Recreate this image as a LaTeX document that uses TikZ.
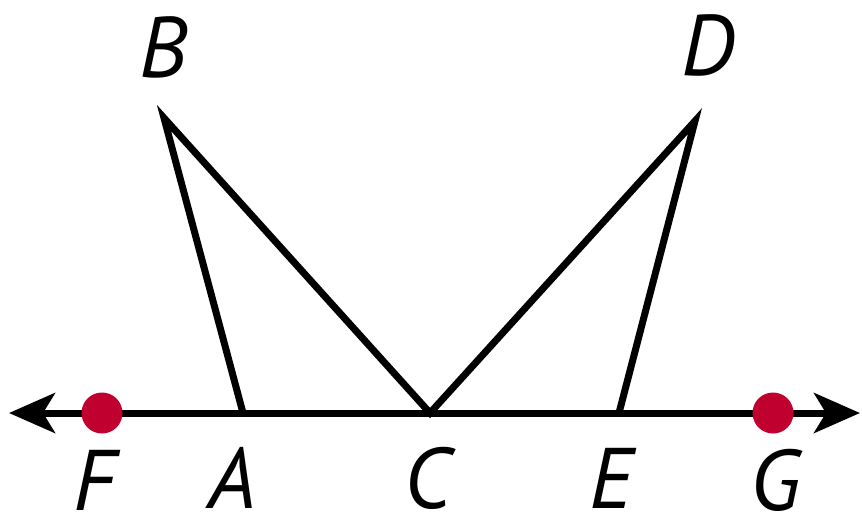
\documentclass[tikz,border=0pt]{standalone}
\usepackage{fontspec}
\setmainfont{PT Sans}
\usetikzlibrary{arrows.meta}
\definecolor{ptred}{RGB}{192,0,47}
\begin{document}
\begin{tikzpicture}[x=1pt,y=-1pt,
  seg/.style={line width=7pt,line join=miter,miter limit=20},
  lbl/.style={font=\fontsize{86}{86}\selectfont\itshape,inner sep=0pt,anchor=center},
  pt/.style={circle,fill=ptred,minimum size=41pt,inner sep=0pt}]
\useasboundingbox (0,0) rectangle (862,523);
\coordinate (L) at (9,413);
\coordinate (R) at (860,413);
\coordinate (A) at (243,413);
\coordinate (C) at (430,413);
\coordinate (E) at (619,413);
\coordinate (B) at (164,118);
\coordinate (D) at (695,121);
\draw[seg,{Stealth[length=46pt,width=40pt,inset=12pt]}-{Stealth[length=46pt,width=40pt,inset=12pt]}] (L) -- (R);
\draw[seg] (A) -- (B) -- (C) -- (D) -- (E);
\node[pt] (F) at (102,413) {};
\node[pt] (G) at (773,413) {};
\node[lbl] (lB) at (163,47) {B};
\node[lbl] (lD) at (708,45) {D};
\node[lbl] (lF) at (95,480) {F};
\node[lbl] (lA) at (232,478) {A};
\node[lbl] (lC) at (428,478) {C};
\node[lbl] (lE) at (611,478) {E};
\node[lbl] (lG) at (776,480) {G};
\end{tikzpicture}
\end{document}
